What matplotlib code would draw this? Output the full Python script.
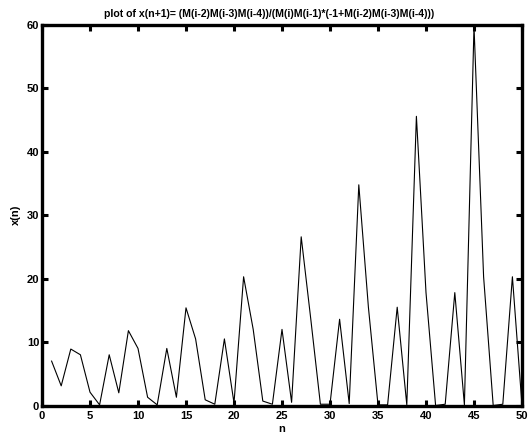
import matplotlib
matplotlib.use("Agg")
import matplotlib.pyplot as plt

n = list(range(1, 51))
x_vals = [7.0, 3.1, 8.9, 8.0, 2.1, 0.1, 8.0, 2.0, 11.8, 9.0,
          1.3, 0.1, 9.0, 1.3, 15.4, 10.5, 0.9, 0.2, 10.5, 0.4,
          20.3, 12.0, 0.7, 0.2, 12.0, 0.5, 26.6, 13.6, 0.2, 0.2,
          13.6, 0.3, 34.8, 15.5, 0.1, 0.1, 15.5, 0.1, 45.6, 17.8,
          0.0, 0.2, 17.8, 0.1, 59.8, 20.3, 0.0, 0.2, 20.3, 0.0]
xticks = [0, 5, 10, 15, 20, 25, 30, 35, 40, 45, 50]
yticks = [0, 10, 20, 30, 40, 50, 60]
title = "plot of x(n+1)= (M(i-2)M(i-3)M(i-4))/(M(i)M(i-1)*(-1+M(i-2)M(i-3)M(i-4)))"

plt.rcParams['font.family'] = ['Liberation Sans', 'DejaVu Sans']
fig = plt.figure(figsize=(5.28, 4.34), dpi=100)
ax = fig.add_axes([42/528, 1 - 405.5/434, 480/528, 380.5/434])
ax.plot(n, x_vals, color='black', linewidth=0.8)
ax.set_xlim(0, 50)
ax.set_ylim(0, 60)
ax.set_xticks(xticks)
ax.set_yticks(yticks)
for s in ax.spines.values():
    s.set_linewidth(2.4)
ax.tick_params(direction='in', length=4, width=2.2, top=True, right=True,
               labelsize=8)
ax.tick_params(axis='x', pad=4)
ax.tick_params(axis='y', pad=2)
for lab in ax.get_xticklabels() + ax.get_yticklabels():
    lab.set_fontweight('bold')
ax.set_xlabel('n', fontsize=8, fontweight='bold', labelpad=2)
ax.set_ylabel('x(n)', fontsize=8, fontweight='bold', labelpad=4)
ax.set_title(title, fontsize=7.6, fontweight='bold', pad=6, x=0.473)
fig.savefig('out.png', dpi=100)
